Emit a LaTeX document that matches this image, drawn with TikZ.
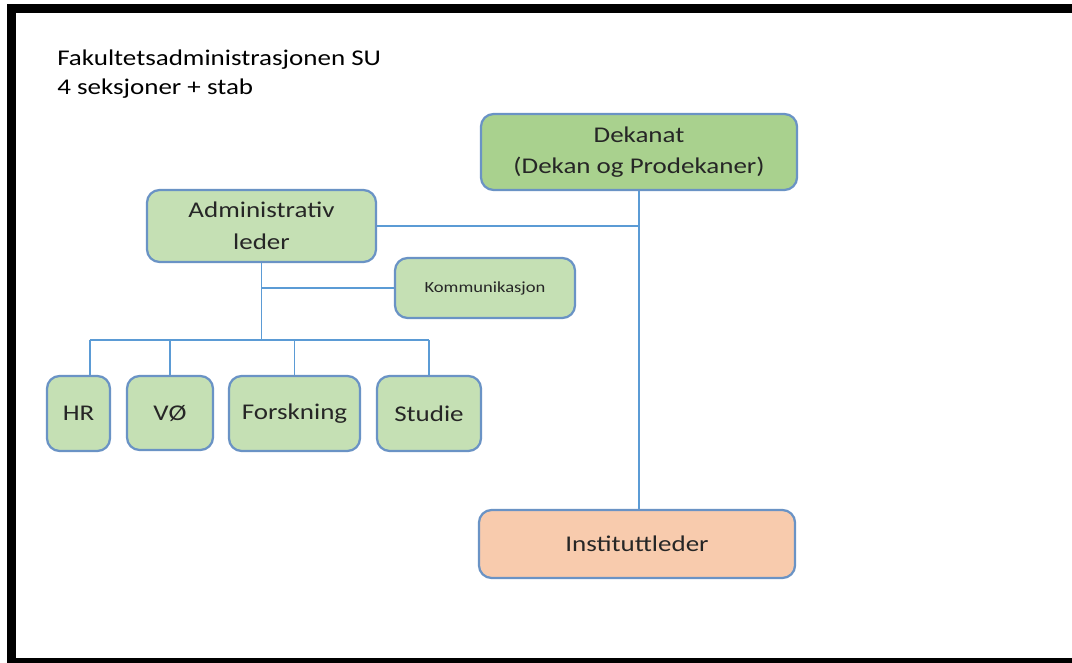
\documentclass[tikz,border=0pt]{standalone}
\usepackage{fontspec}
\setmainfont{Carlito}[FakeStretch=1.2]
\definecolor{boxgreen}{HTML}{C5E0B4}
\definecolor{dekgreen}{HTML}{A9D18E}
\definecolor{peach}{HTML}{F8CBAD}
\definecolor{edgeblue}{HTML}{6A93C5}
\definecolor{linkblue}{HTML}{5B9BD5}
\tikzset{
  unit/.style={draw=edgeblue, line width=1.6pt, rounded corners=9pt, fill=boxgreen,
    align=center, inner sep=2pt, text=black!85, font=\fontsize{16}{22.5}\selectfont},
  link/.style={draw=linkblue, line width=1.4pt},
}
\begin{document}
\begin{tikzpicture}[x=0.025cm, y=-0.025cm]
    % the frame
    \path[clip] (0,0) rectangle (1072,663);
    \fill[white] (0,0) rectangle (1072,663);
    \draw[line width=6.4pt] (1100,662) -| (11.5,8.5) -- (1100,8.5);

    % title
    \node[anchor=north west, align=left, inner sep=0pt, font=\fontsize{16}{20.5}\selectfont]
        (title) at (57,50) {Fakultetsadministrasjonen SU\\4 seksjoner + stab};

    % the boxes
    \node[unit, fill=dekgreen, minimum width=7.9cm, minimum height=1.9cm] (dek) at (639,152)
        {Dekanat\\(Dekan og Prodekaner)};
    \node[unit, minimum width=5.725cm, minimum height=1.8cm] (adm) at (261.5,226)
        {Administrativ\\leder};
    \node[unit, minimum width=4.5cm, minimum height=1.5cm, font=\fontsize{11}{13}\selectfont]
        (komm) at (485,288) {Kommunikasjon};
    \node[unit, minimum width=1.575cm, minimum height=1.875cm] (hr) at (78.5,413.5) {HR};
    \node[unit, minimum width=2.15cm, minimum height=1.85cm] (vo) at (170,413) {VØ};
    \node[unit, minimum width=3.275cm, minimum height=1.875cm] (forsk) at (294.5,413.5) {Forskning};
    \node[unit, minimum width=2.6cm, minimum height=1.875cm] (studie) at (429,413.5) {Studie};
    \node[unit, fill=peach, minimum width=7.9cm, minimum height=1.7cm] (inst) at (637,544)
        {Instituttleder};

    % links
    \coordinate (bus) at (261.5,340);
    \draw[link] (dek.south) -- (dek.south |- inst.north);
    \draw[link] (adm.east) -- (adm.east -| dek.south);
    \draw[link] (adm.south) -- (bus);
    \draw[link] (adm.south |- komm.west) -- (komm.west);
    \draw[link] (hr.74 |- bus) -- (studie.north |- bus);
    \draw[link] (hr.74 |- bus) -- (hr.74);
    \foreach \b in {vo, forsk, studie} {
        \draw[link] (\b.north |- bus) -- (\b.north);
    };
\end{tikzpicture}
\end{document}
